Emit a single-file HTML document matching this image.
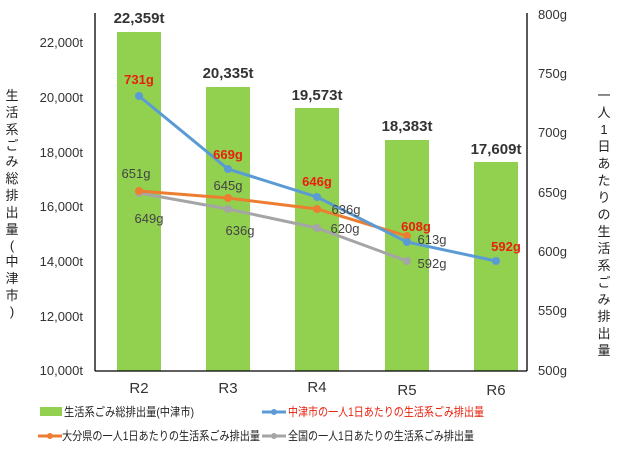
<!DOCTYPE html>
<html><head><meta charset="utf-8"><style>
body{margin:0;background:#fff}
svg text{font-family:"Liberation Sans","Noto Sans CJK JP",sans-serif}
</style></head><body>
<svg width="617" height="448" viewBox="0 0 617 448" xmlns="http://www.w3.org/2000/svg">
<g fill="#92d050">
<rect x="117" y="32" width="44" height="339"/>
<rect x="206" y="87" width="44" height="284"/>
<rect x="295" y="108" width="44" height="263"/>
<rect x="385" y="140" width="44" height="231"/>
<rect x="474" y="162" width="44" height="209"/>
</g>
<g stroke="#000" stroke-width="1.3" fill="none">
<line x1="95" y1="13" x2="95" y2="371"/>
<line x1="527" y1="13" x2="527" y2="371"/>
<line x1="95" y1="371" x2="527" y2="371"/>
</g>
<g font-size="13" fill="#333" text-anchor="end">
<text x="83" y="47">22,000t</text><text x="83" y="102">20,000t</text><text x="83" y="157">18,000t</text>
<text x="83" y="211">16,000t</text><text x="83" y="266">14,000t</text><text x="83" y="321">12,000t</text><text x="83" y="375">10,000t</text>
</g>
<g font-size="13" fill="#333">
<text x="538" y="19">800g</text><text x="538" y="78">750g</text><text x="538" y="137">700g</text><text x="538" y="197">650g</text>
<text x="538" y="256">600g</text><text x="538" y="315">550g</text><text x="538" y="375">500g</text>
</g>
<g font-size="15" fill="#333" text-anchor="middle">
<text x="139" y="393">R2</text><text x="228" y="393">R3</text><text x="317" y="392">R4</text><text x="407" y="395">R5</text><text x="496" y="395">R6</text>
</g>
<g font-size="15" fill="#333" font-weight="bold" text-anchor="middle">
<text x="139" y="23">22,359t</text><text x="228" y="78">20,335t</text><text x="317" y="100">19,573t</text>
<text x="407" y="131">18,383t</text><text x="496" y="154">17,609t</text>
</g>
<g font-size="13" fill="#222" text-anchor="middle">
<text x="12" y="100">生</text><text x="12" y="117">活</text><text x="12" y="134">系</text><text x="12" y="150">ご</text><text x="12" y="166">み</text><text x="12" y="183">総</text><text x="12" y="200">排</text><text x="12" y="217">出</text><text x="12" y="234">量</text><text x="12" y="250">(</text><text x="12" y="266">中</text><text x="12" y="283">津</text><text x="12" y="300">市</text><text x="12" y="316">)</text>
<text x="604" y="100">一</text><text x="604" y="117">人</text><text x="604" y="134">1</text><text x="604" y="151">日</text><text x="604" y="168">あ</text><text x="604" y="185">た</text><text x="604" y="202">り</text><text x="604" y="219">の</text><text x="604" y="236">生</text><text x="604" y="253">活</text><text x="604" y="270">系</text><text x="604" y="287">ご</text><text x="604" y="304">み</text><text x="604" y="321">排</text><text x="604" y="338">出</text><text x="604" y="355">量</text>
</g>
<polyline points="139,193 228,209 317,228 407,261" fill="none" stroke="#a5a5a5" stroke-width="3"/>
<g fill="#a5a5a5"><circle cx="139" cy="193" r="4"/><circle cx="228" cy="209" r="4"/><circle cx="317" cy="228" r="4"/><circle cx="407" cy="261" r="4"/></g>
<polyline points="139,191 228,198 317,209 407,236" fill="none" stroke="#ed7d31" stroke-width="3"/>
<g fill="#ed7d31"><circle cx="139" cy="191" r="4"/><circle cx="228" cy="198" r="4"/><circle cx="317" cy="209" r="4"/><circle cx="407" cy="236" r="4"/></g>
<polyline points="139,96 228,169 317,197 407,242 496,261" fill="none" stroke="#5b9bd5" stroke-width="3"/>
<g fill="#5b9bd5"><circle cx="139" cy="96" r="4"/><circle cx="228" cy="169" r="4"/><circle cx="317" cy="197" r="4"/><circle cx="407" cy="242" r="4"/><circle cx="496" cy="261" r="4"/></g>
<g font-size="13" font-weight="bold" fill="#e8200c" text-anchor="middle">
<text x="139" y="84">731g</text><text x="228" y="159">669g</text><text x="317" y="186">646g</text><text x="416" y="231">608g</text><text x="506" y="251">592g</text>
</g>
<g font-size="13" fill="#444" text-anchor="middle">
<text x="136" y="178">651g</text><text x="228" y="190">645g</text><text x="346" y="214">636g</text><text x="432" y="244">613g</text>
<text x="149" y="223">649g</text><text x="240" y="235">636g</text><text x="345" y="233">620g</text><text x="432" y="268">592g</text>
</g>
<rect x="40" y="407" width="22" height="9" fill="#92d050"/>
<text x="64" y="416" font-size="12" fill="#222" textLength="130" lengthAdjust="spacingAndGlyphs">生活系ごみ総排出量(中津市)</text>
<line x1="262" y1="412" x2="286" y2="412" stroke="#5b9bd5" stroke-width="3"/><circle cx="274" cy="412" r="3" fill="#5b9bd5"/>
<text x="288" y="416" font-size="12" fill="#e8200c" textLength="196" lengthAdjust="spacingAndGlyphs">中津市の一人1日あたりの生活系ごみ排出量</text>
<line x1="38" y1="436" x2="62" y2="436" stroke="#ed7d31" stroke-width="3"/><circle cx="50" cy="436" r="3" fill="#ed7d31"/>
<text x="62" y="440" font-size="12" fill="#222" textLength="198" lengthAdjust="spacingAndGlyphs">大分県の一人1日あたりの生活系ごみ排出量</text>
<line x1="262" y1="436" x2="286" y2="436" stroke="#a5a5a5" stroke-width="3"/><circle cx="274" cy="436" r="3" fill="#a5a5a5"/>
<text x="288" y="440" font-size="12" fill="#222" textLength="186" lengthAdjust="spacingAndGlyphs">全国の一人1日あたりの生活系ごみ排出量</text>
</svg>
</body></html>
